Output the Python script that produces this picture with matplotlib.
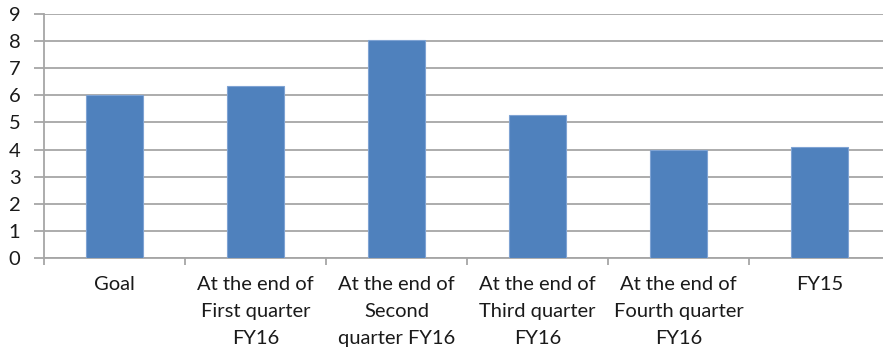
import matplotlib.pyplot as plt
import numpy as np

# quarterly values against the goal
categories = ['Goal',
              'At the end of\nFirst quarter\nFY16',
              'At the end of\nSecond\nquarter FY16',
              'At the end of\nThird quarter\nFY16',
              'At the end of\nFourth quarter\nFY16',
              'FY15']
values = [6.0, 6.35, 8.05, 5.27, 4.0, 4.1]
y_ticks = list(range(0, 10))

plt.rcParams['font.family'] = ['Lato', 'DejaVu Sans']

fig = plt.figure(figsize=(8.83, 3.57), dpi=100)
ax = fig.add_axes([44 / 883, 1 - 258 / 357, 846 / 883, 244 / 357])

x = np.arange(len(categories))
ax.bar(x, values, width=0.4, color='#4F81BD', edgecolor='#7FA3D3', linewidth=0.8, zorder=3)

ax.set_xlim(-0.5, len(categories) - 0.5)
ax.set_ylim(0, 9)
ax.set_yticks(y_ticks)
ax.yaxis.grid(True, color='#A6A6A6', linewidth=1.3, zorder=0)

# category labels centred, tick marks between categories
ax.set_xticks(x)
ax.set_xticklabels(categories, fontsize=14.5, color='#1A1A1A', linespacing=1.7)
ax.tick_params(axis='x', which='major', length=0, pad=13)
ax.set_xticks(np.arange(-0.5, len(categories)), minor=True)
ax.tick_params(axis='x', which='minor', length=5, color='#A6A6A6', width=1.3)
ax.tick_params(axis='y', length=7, color='#A6A6A6', width=1.3, labelsize=14.5,
               labelcolor='#1A1A1A', pad=10)

for side in ['top', 'right']:
    ax.spines[side].set_visible(False)
for side in ['left', 'bottom']:
    ax.spines[side].set_color('#A6A6A6')
    ax.spines[side].set_linewidth(1.3)

fig.savefig('out.png', dpi=100)
